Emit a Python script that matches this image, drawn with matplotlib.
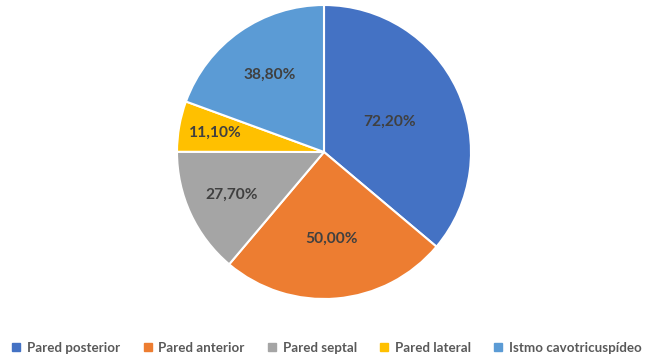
import matplotlib
matplotlib.use("Agg")
import matplotlib.pyplot as plt
import numpy as np
from matplotlib.lines import Line2D

categories = ["Pared posterior", "Pared anterior", "Pared septal", "Pared lateral", "Istmo cavotricuspídeo"]
values = [72.2, 50.0, 27.7, 11.1, 38.8]
labels = ["72,20%", "50,00%", "27,70%", "11,10%", "38,80%"]
colors = ["#4472C4", "#ED7D31", "#A5A5A5", "#FFC000", "#5B9BD5"]
label_dist = [0.49, 0.59, 0.69, 0.75, 0.64]

plt.rcParams['font.family'] = ['Lato', 'DejaVu Sans']

fig = plt.figure(figsize=(6.63, 3.61), dpi=100)
W, H = 663, 361
cx, cy, r = 324, 152, 147
ax = fig.add_axes([(cx - r) / W, (H - cy - r) / H, 2 * r / W, 2 * r / H])

wedges, _ = ax.pie(values, colors=colors, startangle=90, counterclock=False,
                   wedgeprops=dict(edgecolor="white", linewidth=1.5), radius=1.0)
ax.set_xlim(-1, 1)
ax.set_ylim(-1, 1)
ax.set_aspect('equal')

for w, lab, d in zip(wedges, labels, label_dist):
    ang = np.deg2rad((w.theta1 + w.theta2) / 2)
    ax.text(d * np.cos(ang), d * np.sin(ang), lab, ha='center', va='center',
            fontsize=11.2, fontweight='bold', color='#404040')

handles = [Line2D([], [], marker='s', linestyle='none', markersize=5.5,
                  markerfacecolor=c, markeredgecolor=c) for c in colors]
fig.legend(handles, categories, loc='center', bbox_to_anchor=(327 / W, 1 - 348 / H),
           ncol=5, frameon=False, handlelength=0.6, handletextpad=0.5,
           columnspacing=1.75, labelcolor='#595959', prop=dict(weight='bold', size=9.6))

fig.savefig("out.png", dpi=100, facecolor="white")
